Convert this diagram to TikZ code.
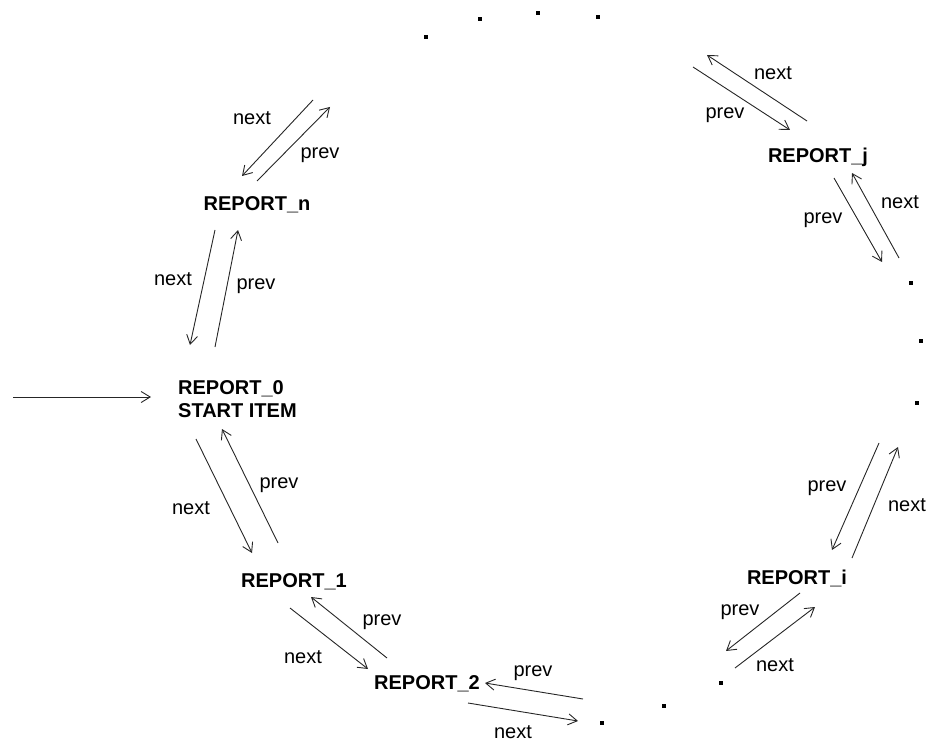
\documentclass[tikz,border=0pt]{standalone}
\usepackage{fontspec}
\setmainfont{Liberation Sans}
\usetikzlibrary{arrows.meta}
\begin{document}
\begin{tikzpicture}[x=1pt,y=-1pt,
  arr/.style={-{Straight Barb[length=9pt,width=11pt]},line width=0.9pt,black!85},
  rep/.style={font=\fontsize{20}{22.5}\selectfont\bfseries,inner sep=0pt,align=left},
  lbl/.style={font=\fontsize{20}{22}\selectfont,inner sep=0pt},
  dotmark/.style={fill=black,minimum size=3.5pt,inner sep=0pt,rectangle}]
\useasboundingbox (0,0) rectangle (931,746);
% report nodes
\node[rep] (rn) at (257,205) {REPORT\_n};
\node[rep,anchor=west] (r0) at (178,399) {REPORT\_0\\START ITEM};
\node[rep] (r1) at (294,582) {REPORT\_1};
\node[rep] (r2) at (427,684) {REPORT\_2};
\node[rep] (ri) at (797,578) {REPORT\_i};
\node[rep] (rj) at (818,157) {REPORT\_j};
% dots
\foreach \n/\p in {t1/{(426,37)},t2/{(480,19)},t3/{(538,13)},t4/{(598,17)},
  s1/{(911,283)},s2/{(921,341)},s3/{(917,403)},
  b1/{(721,683)},b2/{(664,706)},b3/{(602,723)}}
  \node[dotmark] (d\n) at \p {};
% coordinates for arrow ends
\coordinate (a1s) at (313,100); \coordinate (a1e) at (242,176);
\coordinate (a2s) at (257,181); \coordinate (a2e) at (330,107);
\coordinate (b1s) at (215,230); \coordinate (b1e) at (190,345);
\coordinate (b2s) at (215,347); \coordinate (b2e) at (238,230);
\coordinate (ein) at (13,397);  \coordinate (eout) at (151,397);
\coordinate (c1s) at (196,439); \coordinate (c1e) at (252,553);
\coordinate (c2s) at (278,543); \coordinate (c2e) at (222,429);
\coordinate (d1s) at (290,608); \coordinate (d1e) at (368,669);
\coordinate (d2s) at (387,658); \coordinate (d2e) at (311,597);
\coordinate (e1s) at (468,703); \coordinate (e1e) at (578,721);
\coordinate (e2s) at (583,699); \coordinate (e2e) at (485,683);
\coordinate (f1s) at (800,593); \coordinate (f1e) at (726,651);
\coordinate (f2s) at (735,668); \coordinate (f2e) at (815,607);
\coordinate (g1s) at (879,443); \coordinate (g1e) at (832,550);
\coordinate (g2s) at (852,558); \coordinate (g2e) at (898,447);
\coordinate (h1s) at (834,178); \coordinate (h1e) at (882,262);
\coordinate (h2s) at (899,258); \coordinate (h2e) at (852,173);
\coordinate (k1s) at (807,121); \coordinate (k1e) at (707,55);
\coordinate (k2s) at (693,67);  \coordinate (k2e) at (790,130);
% arrows
\foreach \a in {a1,a2,b1,b2,c1,c2,d1,d2,e1,e2,f1,f2,g1,g2,h1,h2,k1,k2}
  \draw[arr] (\a s) -- (\a e);
\draw[arr] (ein) -- (eout);
% labels
\node[lbl] (la1) at (252,118) {next};
\node[lbl] (la2) at (320,155) {prev};
\node[lbl] (lb1) at (173,279) {next};
\node[lbl] (lb2) at (256,286) {prev};
\node[lbl] (lc1) at (191,508) {next};
\node[lbl] (lc2) at (279,485) {prev};
\node[lbl] (ld1) at (303,657) {next};
\node[lbl] (ld2) at (382,622) {prev};
\node[lbl] (le1) at (513,732) {next};
\node[lbl] (le2) at (533,673) {prev};
\node[lbl] (lf1) at (740,612) {prev};
\node[lbl] (lf2) at (775,665) {next};
\node[lbl] (lg1) at (827,488) {prev};
\node[lbl] (lg2) at (907,505) {next};
\node[lbl] (lh1) at (823,220) {prev};
\node[lbl] (lh2) at (900,202) {next};
\node[lbl] (lk1) at (773,73) {next};
\node[lbl] (lk2) at (725,115) {prev};
\end{tikzpicture}
\end{document}
